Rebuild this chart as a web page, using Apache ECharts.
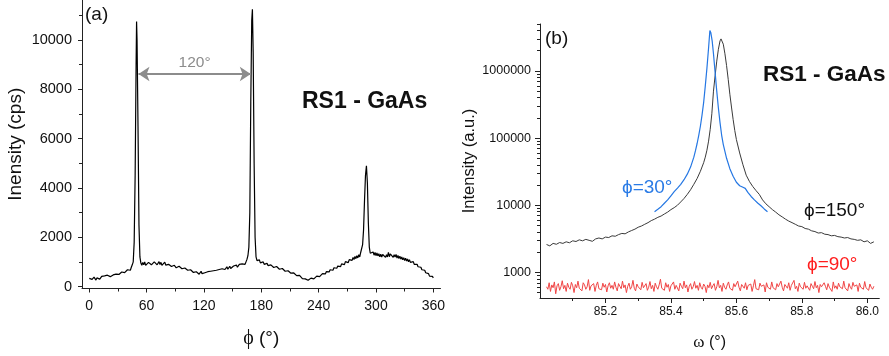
<!DOCTYPE html>
<html>
<head>
<meta charset="utf-8">
<script src="https://cdn.jsdelivr.net/npm/echarts@6/dist/echarts.min.js"></script>
<style>
    html, body { margin: 0; padding: 0; background: #fff; }
    #chart { width: 889px; height: 356px; }
</style>
</head>
<body>
<div id="chart"></div>
<script>
// (a) phi scan: [phi (deg), intensity (cps)]
const phiScan = [
    [0, 330], [1, 300], [2, 370], [3, 290], [4, 340], [5, 380], [6, 310], [7, 260], [8, 350], [9, 320],
    [10, 390], [11, 300], [12, 360], [13, 410], [14, 330], [15, 380], [16, 430], [17, 350], [18, 400], [19, 460],
    [20, 380], [21, 440], [22, 400], [23, 480], [24, 420], [25, 470], [26, 520], [27, 440], [28, 500], [29, 460],
    [30, 540], [31, 490], [32, 570], [33, 510], [34, 590], [35, 540], [36, 620], [37, 560], [38, 640], [39, 600],
    [40, 680], [41, 620], [42, 700], [43, 660], [44, 780], [45, 880], [46, 1000], [47, 1800], [48, 4500],
    [49, 9000], [49.5, 10750], [50, 10000], [51, 6500], [52, 2500], [53, 1200],
    [54, 950], [55, 860], [56, 980], [57, 880], [58, 1000], [59, 860], [60, 940], [61, 820], [62, 980], [63, 900],
    [64, 1020], [65, 880], [66, 960], [67, 860], [68, 1000], [69, 920], [70, 1040], [71, 880], [72, 960], [73, 1010],
    [74, 890], [75, 980], [76, 860], [77, 940], [78, 880], [79, 990], [80, 870], [81, 920], [82, 830], [83, 900],
    [84, 850], [85, 920], [86, 810], [87, 880], [88, 790], [89, 860], [90, 800], [91, 760], [92, 840], [93, 770],
    [94, 820], [95, 740], [96, 800], [97, 720], [98, 780], [99, 700], [100, 750], [101, 680], [102, 740], [103, 660],
    [104, 720], [105, 620], [106, 680], [107, 600], [108, 650], [109, 570], [110, 620], [111, 540], [112, 600], [113, 530],
    [114, 580], [115, 500], [116, 560], [117, 620], [118, 520], [119, 580], [120, 490], [121, 560], [122, 620], [123, 540],
    [124, 600], [125, 660], [126, 560], [127, 620], [128, 680], [129, 580], [130, 640], [131, 700], [132, 600], [133, 660],
    [134, 720], [135, 620], [136, 690], [137, 740], [138, 650], [139, 720], [140, 680], [141, 760], [142, 690], [143, 740],
    [144, 800], [145, 700], [146, 760], [147, 820], [148, 730], [149, 790], [150, 750], [151, 830], [152, 760], [153, 820],
    [154, 870], [155, 780], [156, 850], [157, 900], [158, 820], [159, 880], [160, 920], [161, 860], [162, 950], [163, 900],
    [164, 1000], [165, 1100], [166, 1250], [167, 1600], [168, 3000], [169, 7500], [170, 10800], [170.7, 11250],
    [171.5, 9500], [172.5, 5000], [173.5, 2000], [174.5, 1200], [175.5, 1050],
    [176, 1120], [177, 1000], [178, 1080], [179, 960], [180, 1040], [181, 940], [182, 1000], [183, 900], [184, 970],
    [185, 870], [186, 940], [187, 850], [188, 910], [189, 820], [190, 880], [191, 800], [192, 860], [193, 770], [194, 830],
    [195, 760], [196, 810], [197, 730], [198, 790], [199, 700], [200, 760], [201, 680], [202, 730], [203, 650], [204, 700],
    [205, 620], [206, 670], [207, 600], [208, 640], [209, 560], [210, 610], [211, 540], [212, 580], [213, 500], [214, 550],
    [215, 470], [216, 520], [217, 440], [218, 480], [219, 410], [220, 450], [221, 370], [222, 400], [223, 320], [224, 360],
    [225, 260], [226, 310], [227, 230], [228, 300], [229, 250], [230, 330], [231, 270], [232, 340], [233, 290], [234, 360],
    [235, 310], [236, 380], [237, 340], [238, 420], [239, 370], [240, 440], [241, 400], [242, 480], [243, 430], [244, 520],
    [245, 470], [246, 560], [247, 510], [248, 600], [249, 550], [250, 640], [251, 590], [252, 680], [253, 620], [254, 720],
    [255, 660], [256, 760], [257, 700], [258, 800], [259, 740], [260, 830], [261, 770], [262, 880], [263, 810], [264, 920],
    [265, 850], [266, 960], [267, 890], [268, 1010], [269, 930], [270, 1050], [271, 970], [272, 1090], [273, 1010], [274, 1140],
    [275, 1060], [276, 1180], [277, 1090], [278, 1220], [279, 1130], [280, 1250], [281, 1160], [282, 1290], [283, 1200], [284, 1380],
    [285, 1450], [286, 1700], [287, 2300], [288, 3500], [289, 4500], [290, 4900], [291, 4200], [292, 2600], [293, 1600], [294, 1350],
    [295, 1420], [296, 1300], [297, 1400], [298, 1270], [299, 1380], [300, 1250], [301, 1360], [302, 1240], [303, 1330], [304, 1200],
    [305, 1310], [306, 1190], [307, 1300], [308, 1220], [309, 1340], [310, 1180], [311, 1290], [312, 1200], [313, 1380], [314, 1210],
    [315, 1320], [316, 1240], [317, 1350], [318, 1180], [319, 1290], [320, 1200], [321, 1300], [322, 1150], [323, 1260], [324, 1130],
    [325, 1230], [326, 1110], [327, 1200], [328, 1080], [329, 1170], [330, 1050], [331, 1150], [332, 1030], [333, 1120], [334, 1000],
    [335, 1090], [336, 980], [337, 1060], [338, 940], [339, 1010], [340, 900], [341, 960], [342, 850], [343, 900], [344, 800],
    [345, 840], [346, 740], [347, 780], [348, 680], [349, 720], [350, 620], [351, 660], [352, 560], [353, 590], [354, 490],
    [355, 520], [356, 420], [357, 450], [358, 380], [359, 410], [360, 350]
];
const phiTicks = [0, 60, 120, 180, 240, 300, 360];
const phiMinorTicks = [30, 90, 150, 210, 270, 330];
const cpsTicks = [0, 2000, 4000, 6000, 8000, 10000];
const cpsMinorTicks = [1000, 3000, 5000, 7000, 9000, 11000];
// arrow between the first two peaks
const peakSpacing = [[51.5, 8620], [169, 8620]];

// (b) omega scans: [omega (deg), intensity (a.u.)]
const omegaPhi150 = [
    [85.02, 2600], [85.03, 2480], [85.04, 2700], [85.05, 2620], [85.06, 2780], [85.07, 2700], [85.08, 2850],
    [85.09, 2760], [85.10, 2950], [85.11, 2880], [85.12, 3050], [85.13, 2950], [85.14, 3100], [85.15, 3000],
    [85.16, 2900], [85.17, 3150], [85.18, 3250], [85.19, 3150], [85.20, 3350], [85.21, 3300], [85.22, 3500],
    [85.23, 3450], [85.24, 3650], [85.25, 3800], [85.26, 3750], [85.27, 4000], [85.28, 4200], [85.29, 4400],
    [85.30, 4700], [85.31, 4900], [85.32, 5200], [85.33, 5500], [85.34, 5900], [85.35, 6200], [85.36, 6600],
    [85.37, 6900], [85.38, 7400], [85.39, 7900], [85.40, 8600], [85.41, 9200], [85.42, 10000], [85.43, 11200],
    [85.44, 12600], [85.45, 14500], [85.46, 17000], [85.47, 20500], [85.48, 25000], [85.49, 32000],
    [85.50, 43000], [85.505, 52000], [85.51, 66000], [85.515, 90000], [85.52, 135000], [85.525, 230000],
    [85.53, 500000], [85.535, 850000], [85.54, 1400000], [85.545, 2100000], [85.55, 2800000], [85.553, 3000000],
    [85.556, 2900000], [85.56, 2500000], [85.565, 1800000], [85.57, 1200000], [85.575, 750000], [85.58, 450000],
    [85.585, 290000], [85.59, 190000], [85.595, 130000], [85.60, 95000], [85.61, 60000], [85.62, 40000],
    [85.63, 28000], [85.64, 22500], [85.65, 19000], [85.66, 16500], [85.67, 14500], [85.68, 12000],
    [85.69, 10500], [85.70, 9500], [85.71, 8600], [85.72, 7900], [85.73, 7200], [85.74, 6700], [85.75, 6200],
    [85.76, 5800], [85.77, 5500], [85.78, 5200], [85.79, 4900], [85.80, 4800], [85.81, 4500], [85.82, 4400],
    [85.83, 4150], [85.84, 4050], [85.85, 3850], [85.86, 3900], [85.87, 3700], [85.88, 3650], [85.89, 3500],
    [85.90, 3550], [85.91, 3400], [85.92, 3350], [85.93, 3250], [85.94, 3300], [85.95, 3150], [85.96, 3100],
    [85.97, 3000], [85.98, 3050], [85.99, 2850], [86.00, 2950], [86.01, 2700], [86.02, 2850]
];
const omegaPhi30 = [
    [85.35, 8000], [85.36, 8700], [85.37, 9500], [85.38, 10700], [85.39, 12000], [85.40, 13800], [85.41, 15900],
    [85.42, 18000], [85.43, 20500], [85.44, 24000], [85.45, 29000], [85.46, 37000], [85.47, 52000],
    [85.475, 65000], [85.48, 83000], [85.485, 110000], [85.49, 150000], [85.495, 220000], [85.50, 340000],
    [85.505, 600000], [85.51, 1100000], [85.515, 2200000], [85.519, 4000000], [85.522, 3700000],
    [85.526, 2800000], [85.53, 1800000], [85.535, 950000], [85.54, 500000], [85.545, 280000], [85.55, 170000],
    [85.555, 110000], [85.56, 80000], [85.57, 50000], [85.58, 35000], [85.59, 27000], [85.60, 22000],
    [85.61, 19500], [85.62, 18500], [85.627, 17800], [85.635, 15500], [85.645, 13500], [85.655, 12000],
    [85.665, 10800], [85.675, 9800], [85.685, 8800], [85.695, 8000]
];
// phi = 90 deg scan, sampled every 0.004 deg from 85.02
const omegaStart = 85.02;
const omegaStep = 0.004;
const phi90Counts = [
    610, 560, 700, 520, 650, 590, 720, 480, 630, 680, 540, 610, 750, 570, 640, 520, 690, 600, 560, 710, 630, 500, 660, 590, 740,
    580, 620, 530, 700, 650, 560, 610, 780, 540, 630, 590, 680, 520, 640, 720, 570, 610, 550, 690, 600, 660, 510, 630, 700, 580,
    640, 560, 720, 600, 530, 680, 620, 570, 740, 590, 650, 500, 620, 690, 560, 610, 760, 580, 530, 670, 610, 640, 550, 710, 590,
    620, 680, 540, 600, 730, 570, 640, 520, 690, 610, 560, 650, 790, 580, 620, 540, 700, 600, 660, 520, 630, 590, 720, 560, 640,
    600, 530, 690, 620, 570, 740, 590, 650, 510, 620, 680, 560, 610, 730, 580, 640, 540, 700, 600, 560, 670, 620, 500, 650, 590,
    710, 570, 630, 680, 540, 610, 760, 590, 640, 520, 690, 600, 560, 650, 720, 580, 620, 540, 680, 610, 570, 740, 600, 530, 660,
    620, 580, 700, 550, 640, 600, 670, 520, 630, 780, 570, 610, 550, 690, 620, 580, 650, 510, 700, 600, 640, 560, 720, 590, 630,
    550, 680, 610, 570, 740, 600, 530, 660, 620, 580, 700, 540, 640, 600, 760, 570, 620, 520, 690, 610, 650, 560, 710, 580, 630,
    600, 540, 680, 620, 570, 730, 590, 640, 500, 660, 610, 570, 700, 620, 550, 680, 600, 640, 520, 720, 580, 630, 560, 690, 610,
    650, 570, 740, 590, 620, 530, 680, 600, 560, 710, 620, 580, 650, 520, 690, 600, 640, 560, 730, 590, 620, 540, 670, 600, 560,
    620
];
const omegaTicks = [85.2, 85.4, 85.6, 85.8, 86.0];
const omegaMinorTicks = [85.1, 85.3, 85.5, 85.7, 85.9];
const intensityTicks = [1000, 10000, 100000, 1000000];
const intensityMinorTicks = [
    500, 600, 700, 800, 900,
    2000, 3000, 4000, 5000, 6000, 7000, 8000, 9000,
    20000, 30000, 40000, 50000, 60000, 70000, 80000, 90000,
    200000, 300000, 400000, 500000, 600000, 700000, 800000, 900000,
    2000000, 3000000, 4000000, 5000000
];

const SANS = 'Liberation Sans, Arial, sans-serif';
const SERIF = 'Liberation Serif, DejaVu Serif, serif';
const AXIS_COLOR = '#222';

const phi90Scan = phi90Counts.map((v, i) => [+(omegaStart + i * omegaStep).toFixed(3), v]);

function majorAxis(gridIndex, type, position, min, max, ticks, opts) {
    return Object.assign({
        gridIndex: gridIndex,
        type: type,
        position: position,
        min: min,
        max: max,
        axisLine: { show: true, onZero: false, lineStyle: { color: AXIS_COLOR, width: 1 } },
        axisTick: { show: true, customValues: ticks, length: 4, lineStyle: { color: AXIS_COLOR } },
        splitLine: { show: false },
        minorTick: { show: false },
    }, opts);
}

function minorAxis(gridIndex, type, position, min, max, ticks, len) {
    return {
        gridIndex: gridIndex,
        type: type,
        position: position,
        min: min,
        max: max,
        axisLine: { show: false, onZero: false },
        axisTick: { show: true, customValues: ticks, length: len, lineStyle: { color: AXIS_COLOR } },
        axisLabel: { show: false },
        splitLine: { show: false },
    };
}

const plainNumber = v => String(Math.round(v));

const chart = echarts.init(document.getElementById('chart'), null, { renderer: 'canvas' });

const option = {
    animation: false,
    backgroundColor: '#fff',
    grid: [
        { left: 82, top: 0, width: 358.5, height: 288.5 },
        { left: 540, top: 24, width: 339.3, height: 274.3 },
    ],
    xAxis: [
        majorAxis(0, 'value', 'bottom', -7.6, 367.5, phiTicks, {
            name: '{g|ϕ} (°)',
            nameLocation: 'middle',
            nameGap: 40,
            nameTextStyle: { fontSize: 19, fontFamily: SANS, color: '#111', rich: { g: { fontSize: 20, fontFamily: SERIF, color: '#111' } } },
            axisLabel: { customValues: phiTicks, color: '#111', fontFamily: SANS, fontSize: 14, margin: 11, formatter: plainNumber },
        }),
        minorAxis(0, 'value', 'bottom', -7.6, 367.5, phiMinorTicks, 3),
        majorAxis(1, 'value', 'bottom', 85.0, 86.0366, omegaTicks, {
            name: '{g|ω} (°)',
            nameLocation: 'middle',
            nameGap: 36,
            nameTextStyle: { fontSize: 16, fontFamily: SANS, color: '#111', rich: { g: { fontSize: 17, fontFamily: SERIF, color: '#111' } } },
            axisTick: { show: true, customValues: omegaTicks, length: 5, lineStyle: { color: AXIS_COLOR } },
            axisLabel: { customValues: omegaTicks, color: '#111', fontFamily: SANS, fontSize: 12, margin: 8, formatter: v => v.toFixed(1) },
        }),
        minorAxis(1, 'value', 'bottom', 85.0, 86.0366, omegaMinorTicks, 3),
    ],
    yAxis: [
        majorAxis(0, 'value', 'left', -81, 11623, cpsTicks, {
            name: 'Inensity (cps)',
            nameLocation: 'middle',
            nameGap: 57,
            nameTextStyle: { fontSize: 19, fontFamily: SANS, color: '#111' },
            axisLabel: { customValues: cpsTicks, color: '#111', fontFamily: SANS, fontSize: 14.5, margin: 10, formatter: plainNumber },
        }),
        minorAxis(0, 'value', 'left', -81, 11623, cpsMinorTicks, 3),
        majorAxis(1, 'log', 'left', 415, 5000000, intensityTicks, {
            name: 'Intensity (a.u.)',
            nameLocation: 'middle',
            nameGap: 62,
            nameTextStyle: { fontSize: 16.5, fontFamily: SANS, color: '#111' },
            axisTick: { show: true, customValues: intensityTicks, length: 5, lineStyle: { color: AXIS_COLOR } },
            axisLabel: { customValues: intensityTicks, color: '#111', fontFamily: SANS, fontSize: 12.5, margin: 9, formatter: plainNumber },
        }),
        minorAxis(1, 'log', 'left', 415, 5000000, intensityMinorTicks, 3),
    ],
    series: [
        {
            name: 'phi scan',
            type: 'line',
            xAxisIndex: 0,
            yAxisIndex: 0,
            data: phiScan,
            showSymbol: false,
            lineStyle: { color: '#000', width: 1.2 },
            silent: true,
            markLine: {
                silent: true,
                symbol: ['arrow', 'arrow'],
                symbolSize: 11,
                lineStyle: { color: '#8c8c8c', width: 2, type: 'solid' },
                label: { show: true, position: 'middle', formatter: '120°', color: '#8c8c8c', fontSize: 15.5, fontFamily: SANS, distance: 3 },
                data: [[{ coord: peakSpacing[0] }, { coord: peakSpacing[1] }]],
            },
        },
        {
            name: 'phi=90',
            type: 'line',
            xAxisIndex: 2,
            yAxisIndex: 2,
            data: phi90Scan,
            showSymbol: false,
            lineStyle: { color: '#f04545', width: 1 },
            silent: true,
        },
        {
            name: 'phi=150',
            type: 'line',
            xAxisIndex: 2,
            yAxisIndex: 2,
            data: omegaPhi150,
            showSymbol: false,
            lineStyle: { color: '#3a3a3a', width: 1 },
            silent: true,
        },
        {
            name: 'phi=30',
            type: 'line',
            xAxisIndex: 2,
            yAxisIndex: 2,
            data: omegaPhi30,
            showSymbol: false,
            lineStyle: { color: '#2577e3', width: 1.2 },
            silent: true,
        },
    ],
    graphic: [
        { type: 'text', x: 85, y: 15, style: { text: '(a)', font: '19px ' + SANS, fill: '#111', verticalAlign: 'middle' } },
        { type: 'text', x: 545, y: 39, style: { text: '(b)', font: '19px ' + SANS, fill: '#111', verticalAlign: 'middle' } },
        { type: 'text', x: 302, y: 102, style: { text: 'RS1 - GaAs', font: 'bold 23px ' + SANS, fill: '#111', verticalAlign: 'middle' } },
        { type: 'text', x: 763, y: 75, style: { text: 'RS1 - GaAs', font: 'bold 22.5px ' + SANS, fill: '#111', verticalAlign: 'middle' } },
        { type: 'text', x: 622, y: 188, style: { text: 'ϕ=30°', font: '19px ' + SANS, fill: '#2a7be6', verticalAlign: 'middle' } },
        { type: 'text', x: 804, y: 211, style: { text: 'ϕ=150°', font: '19px ' + SANS, fill: '#111', verticalAlign: 'middle' } },
        { type: 'text', x: 807, y: 265, style: { text: 'ϕ=90°', font: '19px ' + SANS, fill: '#ff1e1e', verticalAlign: 'middle' } },
    ],
};

chart.setOption(option);
</script>
</body>
</html>
